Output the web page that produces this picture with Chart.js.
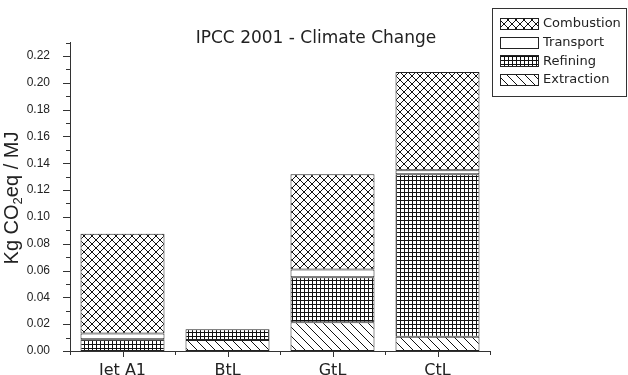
<!DOCTYPE html>
<html>
<head>
<meta charset="utf-8">
<script src="https://cdn.jsdelivr.net/npm/chart.js@4.4.1/dist/chart.umd.min.js"></script>
<style>
  html, body { margin: 0; padding: 0; background: #fff; }
</style>
</head>
<body>
<canvas id="chart" width="628" height="375"></canvas>
<script>
const fuels = ['Jet A1', 'BtL', 'GtL', 'CtL'];
// kg CO2eq per MJ, per life-cycle stage (bottom to top of each stack)
const extraction = [0, 0.0082, 0.0215, 0.0107];
const refining = [0.0087, 0.0080, 0.0334, 0.1211];
const transport = [0.0044, 0, 0.0058, 0.0030];
const combustion = [0.0743, 0, 0.0711, 0.0732];

const yMax = 0.23;
const yStep = 0.01;

const TEXT = '#222';
const LINE = '#333';

// small tiles used as hatch fills
function hatch(size, draw) {
  const c = document.createElement('canvas');
  c.width = size; c.height = size;
  const g = c.getContext('2d');
  g.fillStyle = '#fff';
  g.fillRect(0, 0, size, size);
  g.strokeStyle = '#111';
  g.lineWidth = 1;
  g.beginPath();
  draw(g, size);
  g.stroke();
  return g.createPattern(c, 'repeat');
}

const crossHatch = hatch(8, (g, s) => {
  for (let k = -1; k <= 1; k++) {
    g.moveTo(k * s, 0); g.lineTo(k * s + s, s);
    g.moveTo(k * s + s, 0); g.lineTo(k * s, s);
  }
});
const gridHatch = hatch(4, (g, s) => {
  g.moveTo(0.5, 0); g.lineTo(0.5, s);
  g.moveTo(0, 0.5); g.lineTo(s, 0.5);
});
const diagHatch = hatch(9, (g, s) => {
  for (let k = -1; k <= 1; k++) {
    g.moveTo(k * s, 0); g.lineTo(k * s + s, s);
  }
});

function stage(label, data, fill) {
  return {
    label, data,
    backgroundColor: fill,
    borderColor: '#222',
    borderWidth: 1,
    borderSkipped: false,
    categoryPercentage: 1,
    barPercentage: 0.8
  };
}

// axis ticks, title, rotated unit label and boxed legend
const decorations = {
  id: 'decorations',
  afterDraw(chart) {
    const { ctx, scales: { x, y } } = chart;
    ctx.save();
    ctx.strokeStyle = LINE;
    ctx.lineWidth = 1;
    ctx.beginPath();
    y.ticks.forEach(t => {
      const py = Math.round(y.getPixelForValue(t.value)) + 0.5;
      const len = Math.round(t.value * 100) % 2 === 0 ? 7 : 4;
      ctx.moveTo(y.right - len, py);
      ctx.lineTo(y.right, py);
    });
    const bottom = Math.round(x.top);
    fuels.forEach((f, i) => {
      const px = Math.round(x.getPixelForValue(i)) + 0.5;
      ctx.moveTo(px, bottom); ctx.lineTo(px, bottom + 6);
    });
    const band = x.width / fuels.length;
    for (let k = 0; k <= fuels.length; k++) {
      const px = Math.round(x.left + k * band) + 0.5;
      ctx.moveTo(px, bottom); ctx.lineTo(px, bottom + 4);
    }
    ctx.stroke();

    // title
    ctx.fillStyle = TEXT;
    ctx.font = '17px "DejaVu Sans"';
    ctx.textAlign = 'center';
    ctx.textBaseline = 'middle';
    ctx.fillText('IPCC 2001 - Climate Change', 316, 39);

    // unit label, rotated, with subscript
    ctx.save();
    ctx.translate(18, 198);
    ctx.rotate(-Math.PI / 2);
    ctx.textAlign = 'left';
    ctx.textBaseline = 'alphabetic';
    const big = '20px "Liberation Sans"', small = '13px "Liberation Sans"';
    ctx.font = big;
    const w1 = ctx.measureText('Kg CO').width;
    const w3 = ctx.measureText('eq / MJ').width;
    ctx.font = small;
    const w2 = ctx.measureText('2').width;
    let cx = -(w1 + w2 + w3) / 2;
    ctx.font = big; ctx.fillText('Kg CO', cx, 0); cx += w1;
    ctx.font = small; ctx.fillText('2', cx, 4); cx += w2;
    ctx.font = big; ctx.fillText('eq / MJ', cx, 0);
    ctx.restore();

    // legend box
    ctx.strokeStyle = LINE;
    ctx.strokeRect(492.5, 8.5, 134, 88);
    ctx.font = '13px "DejaVu Sans"';
    ctx.textAlign = 'left';
    ctx.textBaseline = 'middle';
    const items = chart.data.datasets.slice().reverse();
    items.forEach((ds, i) => {
      const cy = 24 + i * 18.7;
      const top = Math.round(cy - 6) + 0.5;
      ctx.fillStyle = ds.backgroundColor;
      ctx.fillRect(500.5, top, 38, 11);
      ctx.strokeStyle = '#222';
      ctx.strokeRect(500.5, top, 38, 11);
      ctx.fillStyle = TEXT;
      ctx.fillText(ds.label, 543, cy);
    });
    ctx.restore();
  }
};

new Chart(document.getElementById('chart'), {
  type: 'bar',
  data: {
    labels: fuels,
    datasets: [
      stage('Extraction', extraction, diagHatch),
      stage('Refining', refining, gridHatch),
      stage('Transport', transport, '#fff'),
      stage('Combustion', combustion, crossHatch)
    ]
  },
  options: {
    responsive: false,
    animation: false,
    layout: { padding: { left: 0, top: 42.5, right: 138, bottom: 0 } },
    plugins: {
      legend: { display: false },
      title: { display: false },
      tooltip: { enabled: false }
    },
    scales: {
      x: {
        stacked: true,
        grid: { display: false },
        border: { display: true, color: LINE, width: 1 },
        ticks: {
          color: TEXT,
          padding: 2,
          font: { family: 'DejaVu Sans', size: 16 }
        },
        afterFit: s => { s.height = 24; }
      },
      y: {
        stacked: true,
        min: 0,
        max: yMax,
        grid: { display: false },
        border: { display: true, color: LINE, width: 1 },
        ticks: {
          stepSize: yStep,
          autoSkip: false,
          color: TEXT,
          padding: 12,
          font: { family: 'Liberation Sans', size: 12 },
          callback: v => Math.round(v * 100) % 2 === 0 ? v.toFixed(2) : ''
        },
        afterFit: s => { s.width = 70; }
      }
    }
  },
  plugins: [decorations]
});
</script>
</body>
</html>
